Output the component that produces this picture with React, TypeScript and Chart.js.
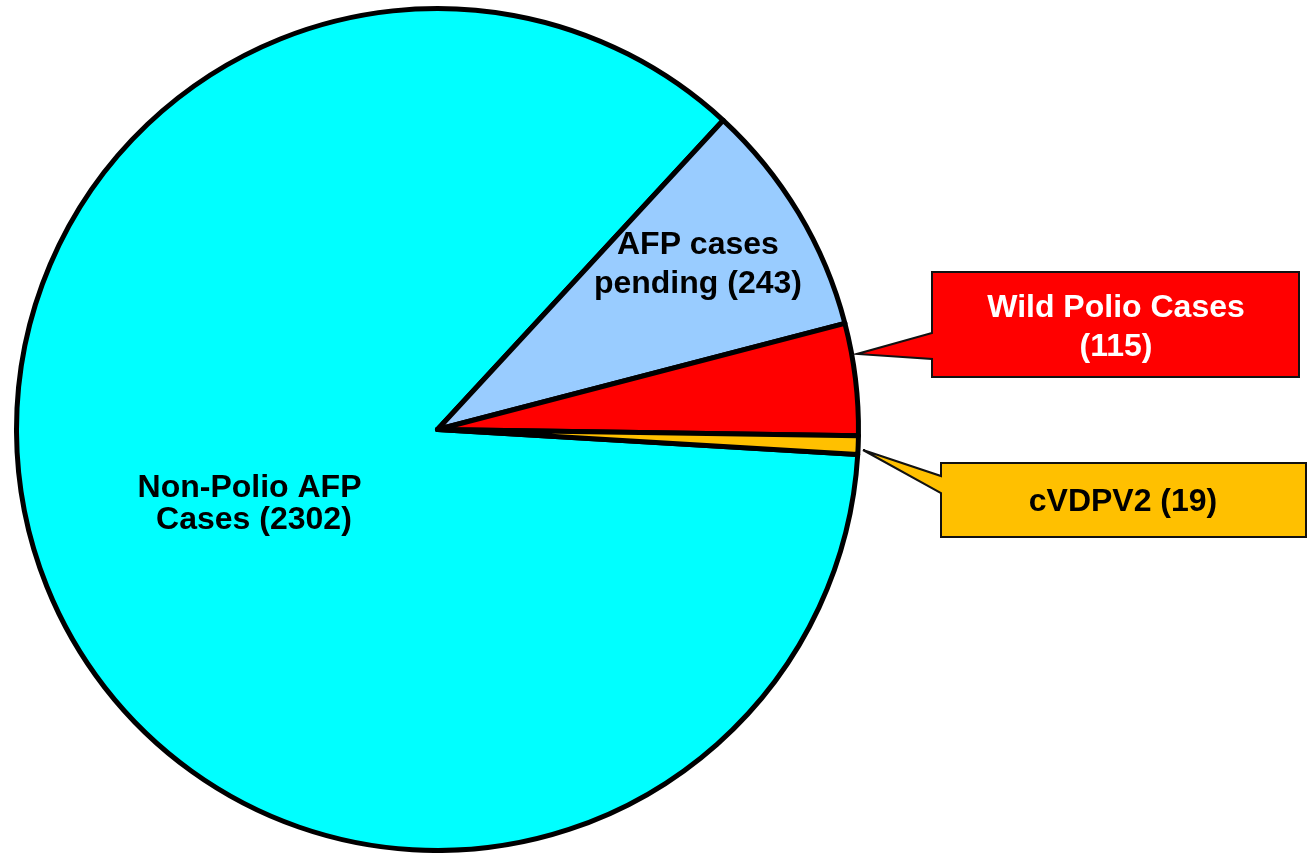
import React, { useEffect, useRef } from "react";
import { Chart, registerables } from "chart.js";

Chart.register(...registerables);

const categories = ["Non-Polio AFP Cases", "AFP cases pending", "Wild Polio Cases", "cVDPV2"];
const caseCounts = [2302, 243, 115, 19];
const sliceColors = ["#00FFFF", "#99CCFF", "#FF0000", "#FFC000"];

// in-pie labels: lines, radial fraction along the slice mid-angle, line spacing
const innerLabelLines = [["Non-Polio AFP ", "Cases (2302)"], ["AFP cases", "pending (243)"], null, null];
const innerLabelRadius = [0.47, 0.735, 0, 0];
const innerLabelSpacing = [32, 39, 0, 0];
const innerLabelShiftX = [0, -5, 0, 0];
const innerLabelShiftY = [-1, -8, 0, 0];

const FONT = "bold 32px 'Liberation Sans', Arial, sans-serif";

const calloutPlugin = {
  id: "callouts",
  afterDatasetsDraw(chart: any) {
    const ctx = chart.ctx;
    const meta = chart.getDatasetMeta(0);
    ctx.save();
    ctx.font = FONT;
    ctx.textAlign = "center";
    ctx.textBaseline = "alphabetic";
    meta.data.forEach((arc: any, i: number) => {
      const lines = innerLabelLines[i];
      if (!lines) return;
      const p = arc.getProps(["x", "y", "startAngle", "endAngle", "outerRadius"], true);
      const mid = (p.startAngle + p.endAngle) / 2;
      const r = p.outerRadius * innerLabelRadius[i];
      const cx = p.x + Math.cos(mid) * r + innerLabelShiftX[i];
      const cy = p.y + Math.sin(mid) * r + innerLabelShiftY[i];
      const sp = innerLabelSpacing[i];
      ctx.fillStyle = "#000";
      lines.forEach((t: string, k: number) => {
        const by = cy - (sp * (lines.length - 1)) / 2 + k * sp + 11;
        ctx.fillText(t, cx, by);
      });
    });

    const drawCallout = (
      box: [number, number, number, number],
      joinA: number,
      joinB: number,
      tip: [number, number],
      fill: string
    ) => {
      const [x0, y0, x1, y1] = box;
      ctx.beginPath();
      ctx.moveTo(x0, y0);
      ctx.lineTo(x1, y0);
      ctx.lineTo(x1, y1);
      ctx.lineTo(x0, y1);
      ctx.lineTo(x0, joinB);
      ctx.lineTo(tip[0], tip[1]);
      ctx.lineTo(x0, joinA);
      ctx.closePath();
      ctx.fillStyle = fill;
      ctx.fill();
      ctx.lineWidth = 2;
      ctx.strokeStyle = "#111";
      ctx.lineJoin = "miter";
      ctx.stroke();
    };
    drawCallout([932, 272, 1299, 377], 333, 359, [857, 354], sliceColors[2]);
    drawCallout([941, 463, 1306, 537], 476, 493, [863, 450], sliceColors[3]);

    ctx.fillStyle = "#FFFFFF";
    ctx.fillText(`${categories[2]}`, 1116, 317);
    ctx.fillText(`(${caseCounts[2]})`, 1116, 356);
    ctx.fillStyle = "#000";
    ctx.fillText(`${categories[3]} (${caseCounts[3]})`, 1123, 511);
    ctx.restore();
  },
};

export default function App() {
  const ref = useRef<HTMLCanvasElement>(null);
  useEffect(() => {
    if (!ref.current) return;
    const chart = new Chart(ref.current, {
      type: "pie",
      data: {
        labels: categories,
        datasets: [
          {
            data: caseCounts,
            backgroundColor: sliceColors,
            borderColor: "#000000",
            borderWidth: 5,
            hoverBorderWidth: 5,
            hoverOffset: 0,
            offset: 0,
            borderJoinStyle: "round",
          } as any,
        ],
      },
      plugins: [calloutPlugin],
      options: {
        animation: false,
        responsive: false,
        maintainAspectRatio: false,
        rotation: 93.4,
        layout: { padding: { left: 14, top: 6, right: 446, bottom: 0 } },
        plugins: {
          legend: { display: false },
          tooltip: { enabled: false },
        },
        events: [],
      },
    });
    return () => chart.destroy();
  }, []);
  return (
    <div style={{ position: "absolute", left: 0, top: 0, width: 1307, height: 853, background: "#fff" }}>
      <canvas ref={ref} width={1307} height={853} style={{ display: "block" }} />
    </div>
  );
}
